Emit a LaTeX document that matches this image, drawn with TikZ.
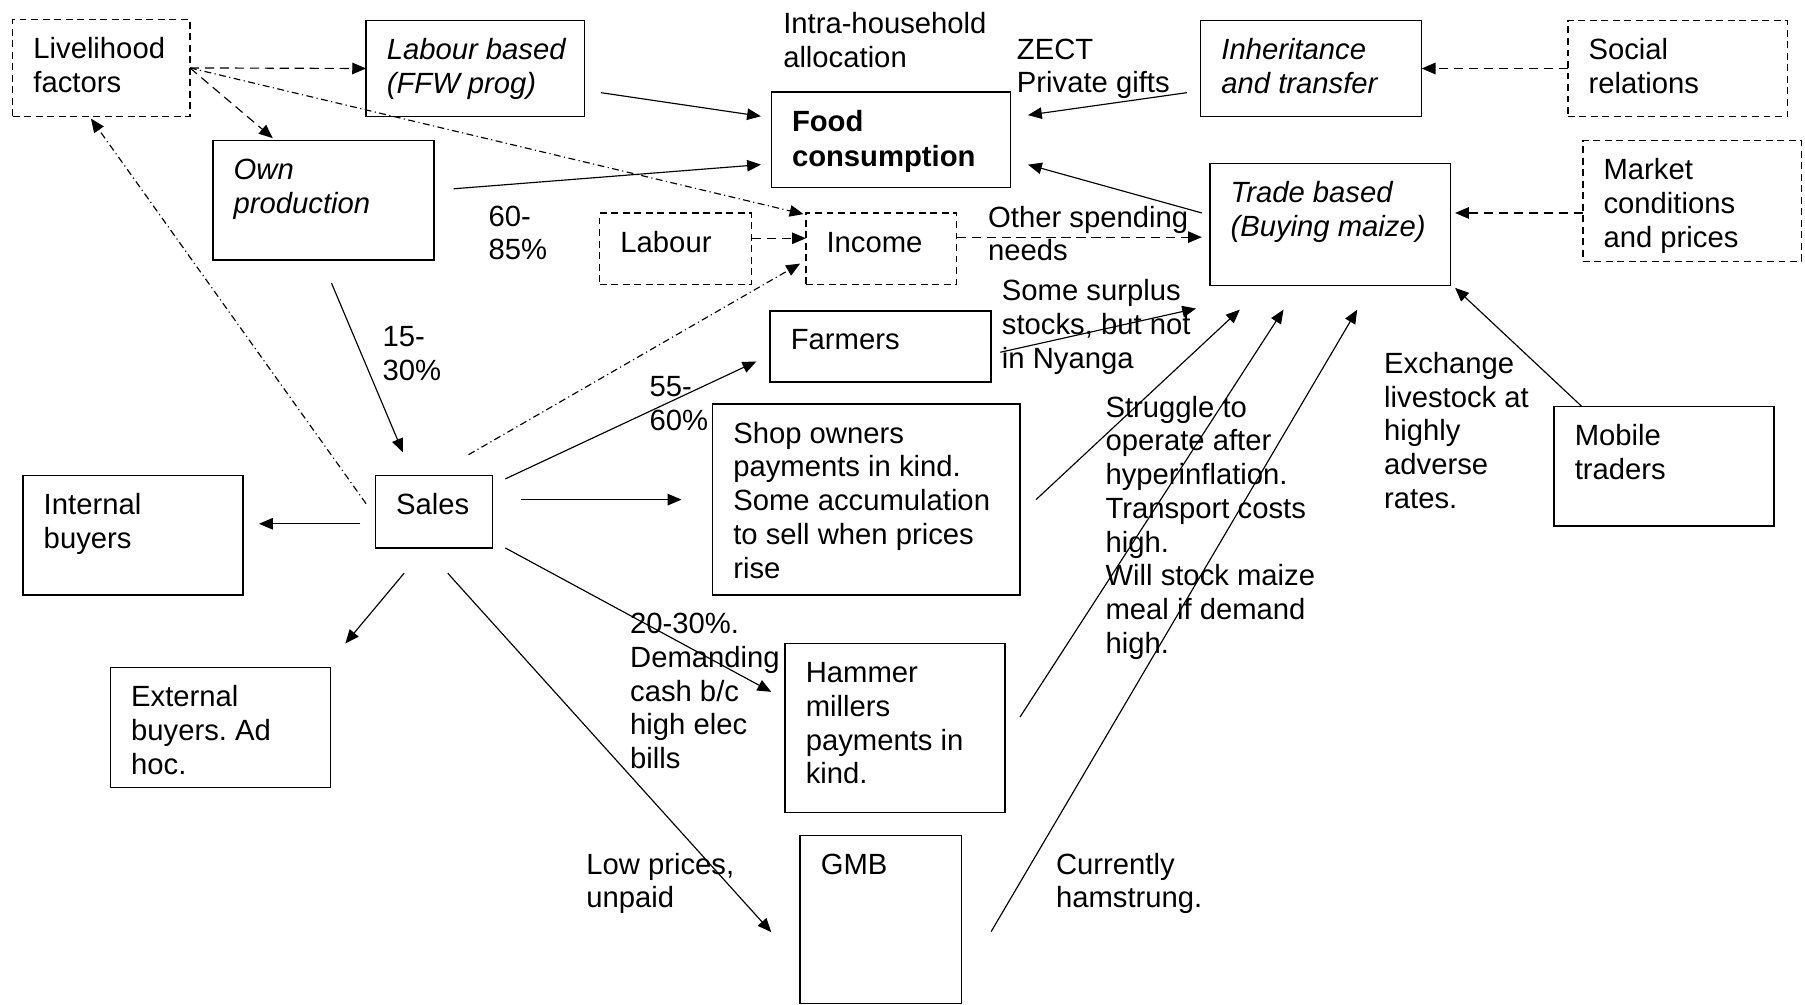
\documentclass[tikz,border=0pt]{standalone}
\usepackage{fontspec}
\setmainfont{Liberation Sans}
\frenchspacing
\usetikzlibrary{arrows.meta,calc}
% box: style, name, x1, y1, x2, y2, text   (coordinates in reference pixels)
\newcommand\mybx[7]{\node[#1] (#2) at (#3,#4) {\makebox[\dimexpr(#5pt-#3pt)/2-18pt\relax][l]{\parbox[c][\dimexpr(#6pt-#4pt)/2\relax][t]{200pt}{\raggedright\rule{0pt}{17pt}#7\par}}};}
% label: name, x, y (top-left), text
\newcommand\mylb[4]{\node[lbl] (#1) at (#2,#3) {\parbox[t]{160pt}{\raggedright\rule{0pt}{10pt}#4\par}};}
\begin{document}
\begin{tikzpicture}[x=0.5pt,y=-0.5pt,
  every node/.style={font=\fontsize{12.7}{14.65}\selectfont},
  bx/.style={draw, line width=0.6pt, anchor=north west, inner xsep=9pt, inner ysep=0pt, outer sep=0pt},
  dbx/.style={bx, dash pattern=on 3pt off 2pt},
  lbl/.style={anchor=north west, inner sep=0pt},
  con/.style={line width=0.5pt, -{Triangle[length=6pt,width=5pt]}},
  dcon/.style={con, dash pattern=on 4pt off 2.5pt},
  ddcon/.style={con, dash pattern=on 3pt off 1.5pt on 0.5pt off 1.5pt}]
\useasboundingbox[fill=white] (0,0) rectangle (1568,873);
% boxes
\mybx{dbx}{liv}{11}{17}{165}{101}{Livelihood\\factors}
\mybx{bx}{lab}{318}{18}{508}{101}{\itshape Labour based\\(FFW prog)}
\mybx{bx}{food}{670}{80}{878}{163}{\bfseries\fontsize{12.7}{15.5}\selectfont Food\\consumption}
\mybx{bx}{inh}{1043}{18}{1235}{101}{\itshape Inheritance\\and transfer}
\mybx{dbx}{soc}{1362}{18}{1553}{101}{Social\\relations}
\mybx{bx}{own}{185}{122}{377}{226}{\itshape Own\\production}
\mybx{bx}{trade}{1051}{142}{1260}{248}{\itshape Trade based\\(Buying maize)}
\mybx{dbx}{mkt}{1375}{122}{1565}{227}{Market\\conditions\\and prices}
\mybx{dbx}{labour}{521}{185}{653}{247}{Labour}
\mybx{dbx}{inc}{700}{185}{831}{247}{Income}
\mybx{bx}{farm}{669}{270}{861}{332}{Farmers}
\mybx{bx}{shop}{619}{351}{886}{517}{Shop owners\\payments in kind.\\Some accumulation\\to sell when prices\\rise}
\mybx{bx}{sales}{326}{413}{428}{476}{Sales}
\mybx{bx}{intb}{20}{413}{211}{517}{Internal\\buyers}
\mybx{bx}{extb}{96}{580}{287}{684}{External\\buyers. Ad\\hoc.}
\mybx{bx}{ham}{682}{559}{873}{706}{Hammer\\millers\\payments in\\kind.}
\mybx{bx}{gmb}{695}{726}{835}{871.5}{GMB}
\mybx{bx}{mob}{1350}{353}{1541}{457}{Mobile\\traders}
% free labels
\mylb{intra}{680}{9}{Intra-household\\allocation}
\mylb{zect}{883}{31}{ZECT\\Private gifts}
\mylb{p6085}{424}{176}{60-\\85\%}
\mylb{other}{858}{177}{Other spending\\needs}
\mylb{surplus}{870}{241}{Some surplus\\stocks, but not\\in Nyanga}
\mylb{p1530}{332}{281}{15-\\30\%}
\mylb{p5560}{564}{324}{55-\\60\%}
\mylb{strug}{960}{342}{Struggle to\\operate after\\hyperinflation.\\Transport costs\\high.\\Will stock maize\\meal if demand\\high.}
\mylb{exch}{1202}{304}{Exchange\\livestock at\\highly\\adverse\\rates.}
\mylb{p2030}{547}{530}{20-30\%.\\Demanding\\cash b/c\\high elec\\bills}
\mylb{low}{509}{739}{Low prices,\\unpaid}
\mylb{curr}{917}{739}{Currently\\hamstrung.}
% connectors
\draw[dcon] (liv.east) -- (lab.west);
\draw[dcon] (liv.east) -- ($(own.north west)+(52,-2)$);
\draw[ddcon] (liv.east) -- ($(inc.north west)+(-2,1)$);
\draw[ddcon] ($(sales.west)+(-8,-7)$) -- ($(liv.south)+(-9,2)$);
\draw[ddcon] ($(sales.north)+(30,-18)$) -- ($(inc.west)+(-5,13)$);
\draw[dcon] ($(labour.east)+(0,-9)$) -- ($(inc.west)+(0,-9)$);
\draw[dcon] ($(inc.east)+(0,-10)$) -- ($(trade.west)+(-7,11)$);
\draw[con] ($(lab.east)+(14,21)$) -- ($(food.west)+(-9,-20.5)$);
\draw[con] ($(own.east)+(17,-10)$) -- ($(food.west)+(-9,21.5)$);
\draw[con] ($(inh.west)+(-12,21)$) -- ($(food.east)+(15,-21.5)$);
\draw[con] ($(trade.west)+(-7,-10)$) -- ($(food.east)+(15,21.5)$);
\draw[dcon] (soc.west) -- (inh.east);
\draw[dcon] ($(mkt.west)+(0,10.5)$) -- ($(trade.east)+(4,-10)$);
\draw[con] ($(own.south)+(7,20)$) -- ($(sales.north)+(-27,-20)$);
\draw[con] ($(sales.north east)+(11,3)$) -- ($(farm.west)+(-12,13)$);
\draw[con] ($(sales.east)+(25,-10.5)$) -- ($(shop.west)+(-27,0)$);
\draw[con] ($(sales.south east)+(11,0)$) -- ($(ham.west)+(-12,-31.5)$);
\draw[con] ($(sales.west)+(-13,10.5)$) -- ($(intb.east)+(14,-10)$);
\draw[con] ($(sales.south)+(-26,22)$) -- ($(extb.north east)+(13,-21)$);
\draw[con] ($(sales.south)+(12,22)$) -- ($(gmb.west)+(-25,11)$);
\draw[con] ($(farm.east)+(8,5)$) -- ($(trade.south west)+(-12,20)$);
\draw[con] ($(shop.east)+(14,0)$) -- ($(trade.south west)+(26,21)$);
\draw[con] ($(ham.east)+(13,-9.5)$) -- ($(trade.south west)+(64,21)$);
\draw[con] ($(gmb.east)+(26,10.5)$) -- ($(trade.south west)+(128,21)$);
\draw[con] ($(mob.north west)+(24,0)$) -- ($(trade.south east)+(4,2)$);
\end{tikzpicture}
\end{document}
